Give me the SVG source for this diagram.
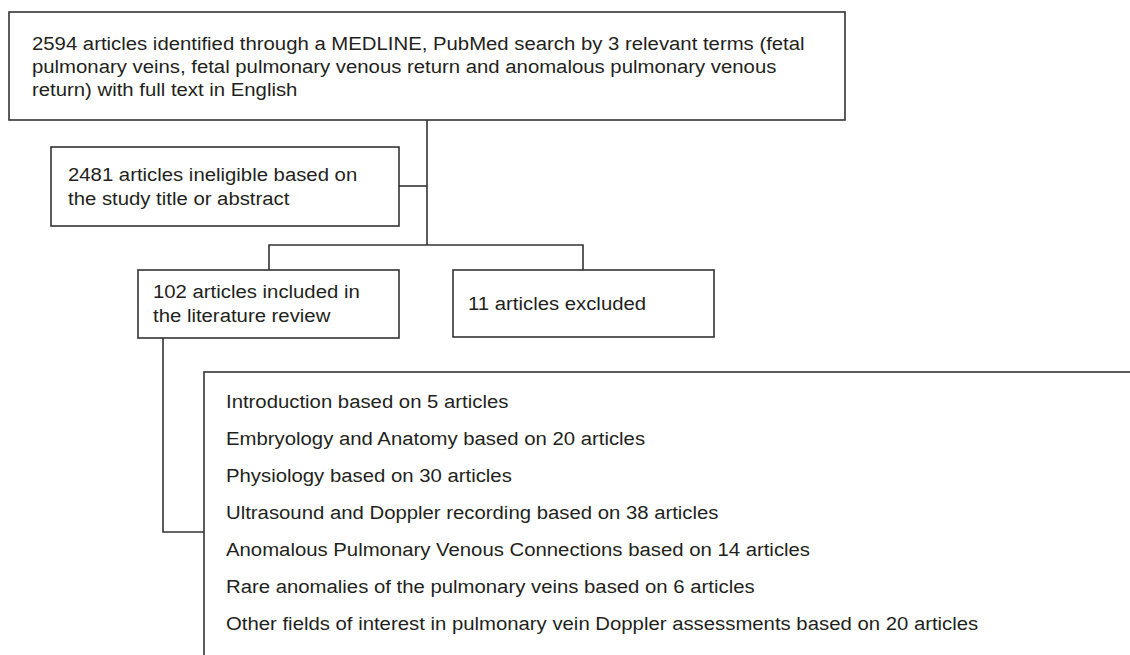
<svg xmlns="http://www.w3.org/2000/svg" width="1130" height="655" viewBox="0 0 1130 655">
  <style>
    .box { fill: #ffffff; stroke: #333333; stroke-width: 1.6; }
    .conn { fill: none; stroke: #333333; stroke-width: 1.6; }
    .t { font-family: "Liberation Sans", Arial, sans-serif; font-size: 18px; fill: #231f20; }
  </style>
  <rect width="1130" height="655" fill="#ffffff"/>
  <g id="connectors">
    <path class="conn" d="M427,120 V245"/>
    <path class="conn" d="M399,186 H427"/>
    <path class="conn" d="M269,270 V245 H583 V270"/>
    <path class="conn" d="M163,338 V532 H204"/>
  </g>
  <g id="node-identified">
    <rect class="box" x="9" y="12" width="836" height="108"/>
    <text class="t" transform="matrix(1.13 0 0 1 32 50)">2594 articles identified through a MEDLINE, PubMed search by 3 relevant terms (fetal</text>
    <text class="t" transform="matrix(1.13 0 0 1 32 73)">pulmonary veins, fetal pulmonary venous return and anomalous pulmonary venous</text>
    <text class="t" transform="matrix(1.13 0 0 1 32 96)">return) with full text in English</text>
  </g>
  <g id="node-ineligible">
    <rect class="box" x="51" y="147" width="348" height="79"/>
    <text class="t" transform="matrix(1.13 0 0 1 68 181)">2481 articles ineligible based on</text>
    <text class="t" transform="matrix(1.13 0 0 1 68 204.5)">the study title or abstract</text>
  </g>
  <g id="node-included">
    <rect class="box" x="138" y="270" width="261" height="68"/>
    <text class="t" transform="matrix(1.13 0 0 1 153 298)">102 articles included in</text>
    <text class="t" transform="matrix(1.13 0 0 1 153 321.5)">the literature review</text>
  </g>
  <g id="node-excluded">
    <rect class="box" x="453" y="270" width="261" height="67"/>
    <text class="t" transform="matrix(1.13 0 0 1 468 310)">11 articles excluded</text>
  </g>
  <g id="node-topics">
    <rect class="box" x="204" y="372" width="1000" height="400"/>
    <text class="t" transform="matrix(1.13 0 0 1 226 408)">Introduction based on 5 articles</text>
    <text class="t" transform="matrix(1.13 0 0 1 226 445)">Embryology and Anatomy based on 20 articles</text>
    <text class="t" transform="matrix(1.13 0 0 1 226 482)">Physiology based on 30 articles</text>
    <text class="t" transform="matrix(1.13 0 0 1 226 519)">Ultrasound and Doppler recording based on 38 articles</text>
    <text class="t" transform="matrix(1.13 0 0 1 226 556)">Anomalous Pulmonary Venous Connections based on 14 articles</text>
    <text class="t" transform="matrix(1.13 0 0 1 226 593)">Rare anomalies of the pulmonary veins based on 6 articles</text>
    <text class="t" transform="matrix(1.13 0 0 1 226 630)">Other fields of interest in pulmonary vein Doppler assessments based on 20 articles</text>
  </g>
</svg>
